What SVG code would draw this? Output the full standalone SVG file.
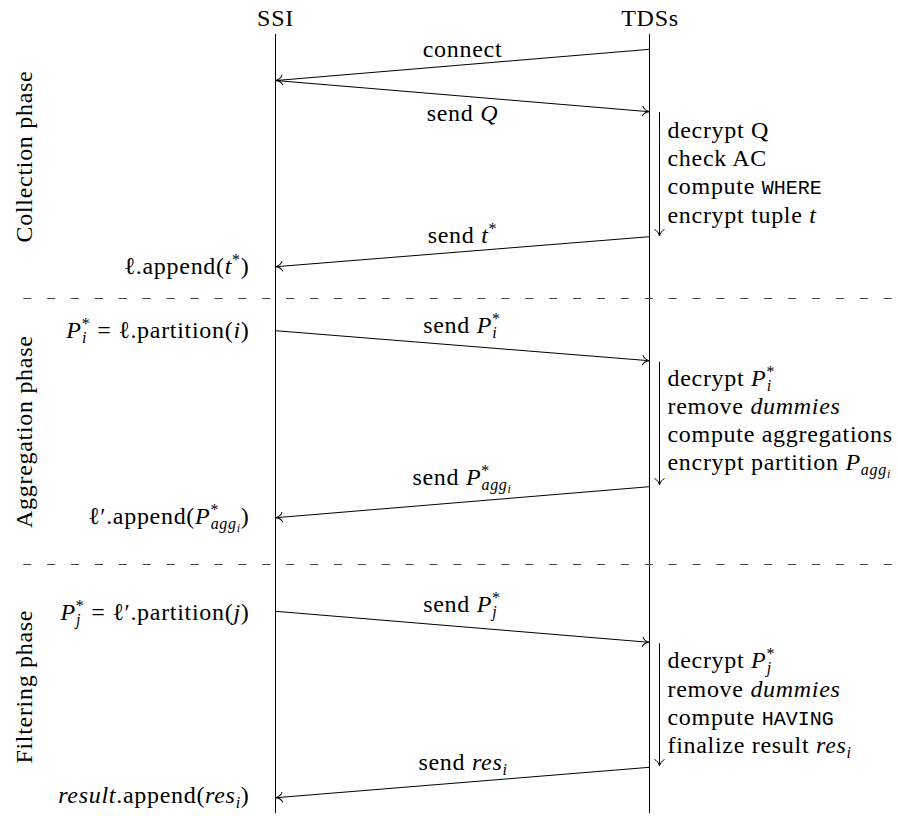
<svg xmlns="http://www.w3.org/2000/svg" width="898" height="816" viewBox="0 0 898 816">
<style>
.life{stroke:#000;stroke-width:1;fill:none}
.msg{stroke:#000;stroke-width:1;fill:none;marker-end:url(#to)}
.sep{stroke:#444;stroke-width:1.2;stroke-dasharray:8 15.9;fill:none}
</style>
<defs>
<marker id="to" markerUnits="userSpaceOnUse" viewBox="-10 -10 20 20" markerWidth="20" markerHeight="20" refX="0" refY="0" orient="auto">
<path d="M-6.5,-5 C-5.5,-2.5 -2.5,-0.6 0,0 C-2.5,0.6 -5.5,2.5 -6.5,5" fill="none" stroke="#000" stroke-width="1"/>
</marker>
</defs>

<g id="ssi">
<text font-family="Times New Roman, serif" font-size="24" letter-spacing="0.7" text-anchor="middle" x="275.5" y="26">SSI</text>
<line class="life" x1="275.5" y1="34" x2="275.5" y2="813"/>
</g>
<g id="tdss">
<text font-family="Times New Roman, serif" font-size="24" letter-spacing="0.7" text-anchor="middle" x="650" y="26">TDSs</text>
<line class="life" x1="649.5" y1="34" x2="649.5" y2="813"/>
</g>

<g id="separators">
<line class="sep" x1="23.3" y1="298.5" x2="896" y2="298.5"/>
<line class="sep" x1="23.3" y1="564.5" x2="896" y2="564.5"/>
</g>

<g id="phases">
<text font-family="Times New Roman, serif" font-size="24" letter-spacing="0.7" text-anchor="middle" transform="translate(31.5,156.5) rotate(-90)">Collection phase</text>
<text font-family="Times New Roman, serif" font-size="24" letter-spacing="0.7" text-anchor="middle" transform="translate(31.5,431.7) rotate(-90)">Aggregation phase</text>
<text font-family="Times New Roman, serif" font-size="24" letter-spacing="0.7" text-anchor="middle" transform="translate(31.5,686.7) rotate(-90)">Filtering phase</text>
</g>

<g id="connectors">
<path class="msg" d="M649.5,49.3 L276,80.5"/>
<path class="msg" d="M275.5,80.5 L649,111.7"/>
<path class="msg" d="M659.5,112 L659.5,236"/>
<path class="msg" d="M649.5,236.7 L276,266.7"/>
<path class="msg" d="M275.5,330.7 L649,360.7"/>
<path class="msg" d="M659.5,361.7 L659.5,485"/>
<path class="msg" d="M649.5,486.7 L276,517.7"/>
<path class="msg" d="M275.5,611.3 L649,642.3"/>
<path class="msg" d="M659.5,643.3 L659.5,766"/>
<path class="msg" d="M649.5,767.3 L276,797.7"/>
</g>

<g id="collection">
<text font-family="Times New Roman, serif" font-size="24" letter-spacing="0.7" text-anchor="middle" x="462.5" y="57">connect</text>
<text font-family="Times New Roman, serif" font-size="24" letter-spacing="0.7" text-anchor="middle" x="462.5" y="120.7">send <tspan font-style="italic">Q</tspan></text>
<text font-family="Times New Roman, serif" font-size="24" letter-spacing="0.7" x="667.5" y="137.7">decrypt Q</text>
<text font-family="Times New Roman, serif" font-size="24" letter-spacing="0.7" x="667.5" y="166">check AC</text>
<text font-family="Times New Roman, serif" font-size="24" letter-spacing="0.7" x="667.5" y="194.3">compute <tspan font-family="Liberation Mono, monospace" font-size="20" letter-spacing="0">WHERE</tspan></text>
<text font-family="Times New Roman, serif" font-size="24" letter-spacing="0.7" x="667.5" y="222.7">encrypt tuple <tspan font-style="italic">t</tspan></text>
<text font-family="Times New Roman, serif" font-size="24" letter-spacing="0.7" text-anchor="middle" x="462.5" y="243">send <tspan font-style="italic">t</tspan><tspan font-size="16" dy="-9">*</tspan></text>
<text font-family="Times New Roman, serif" font-size="24" letter-spacing="0.7" text-anchor="end" x="249.5" y="274">ℓ.append(<tspan font-style="italic">t</tspan><tspan font-size="16" dy="-9">*</tspan><tspan dy="9">)</tspan></text>
</g>

<g id="aggregation">
<text font-family="Times New Roman, serif" font-size="24" letter-spacing="0.7" text-anchor="end" x="249.5" y="338"><tspan font-style="italic">P</tspan><tspan font-size="16" dy="-9">*</tspan><tspan font-size="16" font-style="italic" dx="-8.5" dy="14">i</tspan><tspan dx="3.5" dy="-5"> = ℓ.partition(</tspan><tspan font-style="italic">i</tspan>)</text>
<text font-family="Times New Roman, serif" font-size="24" letter-spacing="0.7" text-anchor="middle" x="462" y="332.7">send <tspan font-style="italic">P</tspan><tspan font-size="16" dy="-9">*</tspan><tspan font-size="16" font-style="italic" dx="-8.5" dy="14">i</tspan></text>
<text font-family="Times New Roman, serif" font-size="24" letter-spacing="0.7" x="667.5" y="385.5">decrypt <tspan font-style="italic">P</tspan><tspan font-size="16" dy="-9">*</tspan><tspan font-size="16" font-style="italic" dx="-8.5" dy="14">i</tspan></text>
<text font-family="Times New Roman, serif" font-size="24" letter-spacing="0.7" x="667.5" y="413.5">remove <tspan font-style="italic">dummies</tspan></text>
<text font-family="Times New Roman, serif" font-size="24" letter-spacing="0.7" x="667.5" y="441.7">compute aggregations</text>
<text font-family="Times New Roman, serif" font-size="24" letter-spacing="0.7" x="667.5" y="470">encrypt partition <tspan font-style="italic">P</tspan><tspan font-size="16" font-style="italic" dy="5">agg</tspan><tspan font-size="12" font-style="italic" dy="3">i</tspan></text>
<text font-family="Times New Roman, serif" font-size="24" letter-spacing="0.7" text-anchor="middle" x="462" y="485">send <tspan font-style="italic">P</tspan><tspan font-size="16" dy="-9">*</tspan><tspan font-size="16" font-style="italic" dx="-8.5" dy="14">agg</tspan><tspan font-size="12" font-style="italic" dy="3">i</tspan></text>
<text font-family="Times New Roman, serif" font-size="24" letter-spacing="0.7" text-anchor="end" x="249.5" y="524">ℓ′.append(<tspan font-style="italic">P</tspan><tspan font-size="16" dy="-9">*</tspan><tspan font-size="16" font-style="italic" dx="-8.5" dy="14">agg</tspan><tspan font-size="12" font-style="italic" dy="3">i</tspan><tspan dy="-8">)</tspan></text>
</g>

<g id="filtering">
<text font-family="Times New Roman, serif" font-size="24" letter-spacing="0.7" text-anchor="end" x="249.5" y="619.5"><tspan font-style="italic">P</tspan><tspan font-size="16" dy="-9">*</tspan><tspan font-size="16" font-style="italic" dx="-8.5" dy="14">j</tspan><tspan dx="3.5" dy="-5"> = ℓ′.partition(</tspan><tspan font-style="italic">j</tspan>)</text>
<text font-family="Times New Roman, serif" font-size="24" letter-spacing="0.7" text-anchor="middle" x="462" y="611.7">send <tspan font-style="italic">P</tspan><tspan font-size="16" dy="-9">*</tspan><tspan font-size="16" font-style="italic" dx="-8.5" dy="14">j</tspan></text>
<text font-family="Times New Roman, serif" font-size="24" letter-spacing="0.7" x="667.5" y="668.3">decrypt <tspan font-style="italic">P</tspan><tspan font-size="16" dy="-9">*</tspan><tspan font-size="16" font-style="italic" dx="-8.5" dy="14">j</tspan></text>
<text font-family="Times New Roman, serif" font-size="24" letter-spacing="0.7" x="667.5" y="696.7">remove <tspan font-style="italic">dummies</tspan></text>
<text font-family="Times New Roman, serif" font-size="24" letter-spacing="0.7" x="667.5" y="725">compute <tspan font-family="Liberation Mono, monospace" font-size="20" letter-spacing="0">HAVING</tspan></text>
<text font-family="Times New Roman, serif" font-size="24" letter-spacing="0.7" x="667.5" y="753.3">finalize result <tspan font-style="italic">res</tspan><tspan font-size="16" font-style="italic" dy="5">i</tspan></text>
<text font-family="Times New Roman, serif" font-size="24" letter-spacing="0.7" text-anchor="middle" x="463" y="770">send <tspan font-style="italic">res</tspan><tspan font-size="16" font-style="italic" dy="5">i</tspan></text>
<text font-family="Times New Roman, serif" font-size="24" letter-spacing="0.7" text-anchor="end" x="249.5" y="803"><tspan font-style="italic">result</tspan>.append(<tspan font-style="italic">res</tspan><tspan font-size="16" font-style="italic" dy="5">i</tspan><tspan dy="-5">)</tspan></text>
</g>
</svg>
